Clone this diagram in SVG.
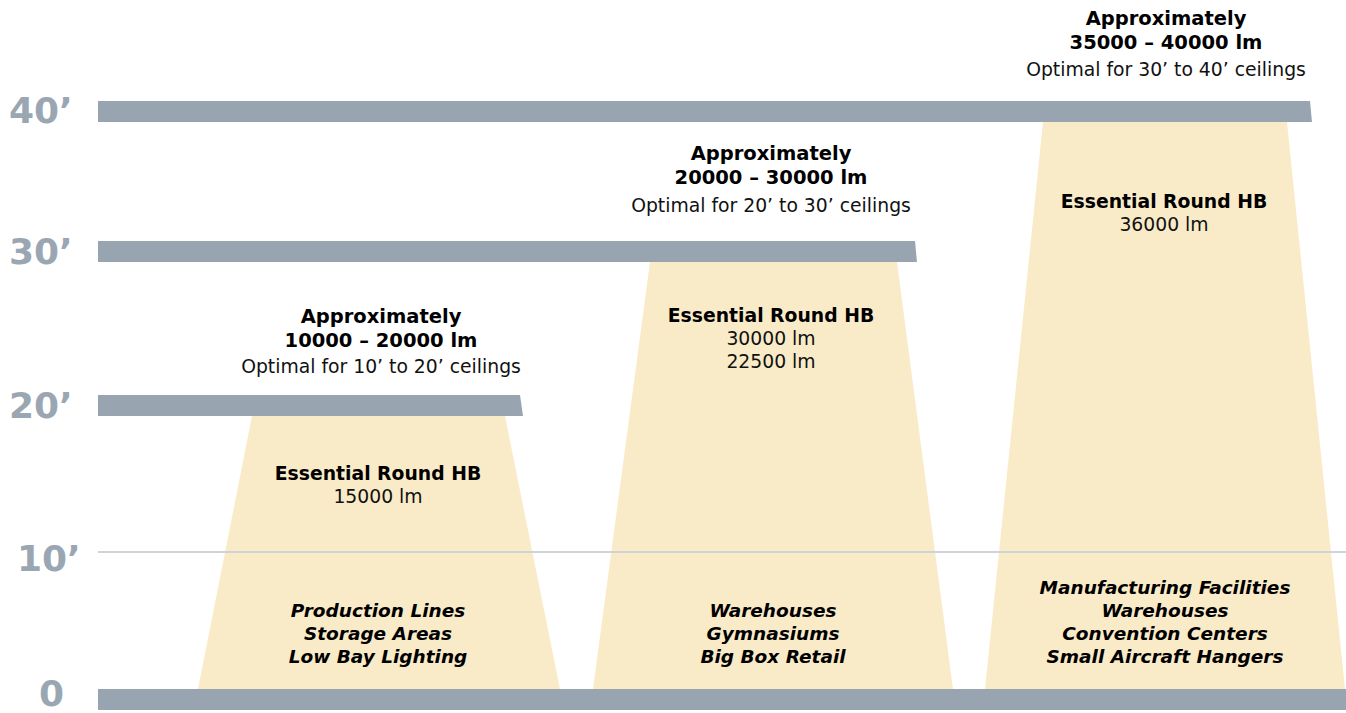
<svg xmlns="http://www.w3.org/2000/svg" width="1346" height="713" viewBox="0 0 1346 713">
<style>
.bar{fill:#98a5b1}
.beam{fill:#faebc8}
.axis{font-family:"DejaVu Sans","Liberation Sans",sans-serif;font-weight:700;font-size:36px;fill:#9aa7b3}
.hd{font-family:"DejaVu Sans","Liberation Sans",sans-serif;font-weight:700;font-size:19.5px;fill:#000;text-anchor:middle}
.nm{font-family:"DejaVu Sans","Liberation Sans",sans-serif;font-weight:700;font-size:18.8px;fill:#000;text-anchor:middle}
.rg{font-family:"DejaVu Sans","Liberation Sans",sans-serif;font-weight:400;font-size:18.8px;fill:#111;text-anchor:middle}
.it{font-family:"DejaVu Sans","Liberation Sans",sans-serif;font-weight:700;font-style:italic;font-size:18.5px;fill:#000;text-anchor:middle}
</style>
<rect width="1346" height="713" fill="#fff"/>
<g id="beams">
<g id="beam1"><polygon class="beam" points="252,416 505,416 560,689 198,689"/></g>
<g id="beam2"><polygon class="beam" points="650,262 897,262 953,689 593,689"/></g>
<g id="beam3"><polygon class="beam" points="1043,122 1287,122 1345,689 985,689"/></g>
</g>
<g id="connectors">
<line x1="98" y1="552" x2="1346" y2="552" stroke="#cfd3d7" stroke-width="2"/>
</g>
<g id="bars">
<g id="bar40"><polygon class="bar" points="98,101 1310,101 1312,122 98,122"/></g>
<g id="bar30"><polygon class="bar" points="98,241 915,241 917,262 98,262"/></g>
<g id="bar20"><polygon class="bar" points="98,395 520,395 523,416 98,416"/></g>
<g id="bar0"><rect class="bar" x="98" y="689" width="1248" height="21"/></g>
</g>
<g id="axis">
<text class="axis" x="9" y="123">40’</text>
<text class="axis" x="9" y="264">30’</text>
<text class="axis" x="9" y="418">20’</text>
<text class="axis" x="17" y="571">10’</text>
<text class="axis" x="39" y="706">0</text>
</g>
<g id="group1">
<text class="hd" x="381" y="323">Approximately</text>
<text class="hd" x="381" y="347">10000 – 20000 lm</text>
<text class="rg" x="381" y="373">Optimal for 10’ to 20’ ceilings</text>
<text class="nm" x="378" y="480">Essential Round HB</text>
<text class="rg" x="378" y="503">15000 lm</text>
<text class="it" x="378" y="617">Production Lines</text>
<text class="it" x="378" y="640">Storage Areas</text>
<text class="it" x="378" y="663">Low Bay Lighting</text>
</g>
<g id="group2">
<text class="hd" x="771" y="160">Approximately</text>
<text class="hd" x="771" y="184">20000 – 30000 lm</text>
<text class="rg" x="771" y="212">Optimal for 20’ to 30’ ceilings</text>
<text class="nm" x="771" y="322">Essential Round HB</text>
<text class="rg" x="771" y="345">30000 lm</text>
<text class="rg" x="771" y="368">22500 lm</text>
<text class="it" x="773" y="617">Warehouses</text>
<text class="it" x="773" y="640">Gymnasiums</text>
<text class="it" x="773" y="663">Big Box Retail</text>
</g>
<g id="group3">
<text class="hd" x="1166" y="25">Approximately</text>
<text class="hd" x="1166" y="49">35000 – 40000 lm</text>
<text class="rg" x="1166" y="76">Optimal for 30’ to 40’ ceilings</text>
<text class="nm" x="1164" y="208">Essential Round HB</text>
<text class="rg" x="1164" y="231">36000 lm</text>
<text class="it" x="1165" y="594">Manufacturing Facilities</text>
<text class="it" x="1165" y="617">Warehouses</text>
<text class="it" x="1165" y="640">Convention Centers</text>
<text class="it" x="1165" y="663">Small Aircraft Hangers</text>
</g>
</svg>
